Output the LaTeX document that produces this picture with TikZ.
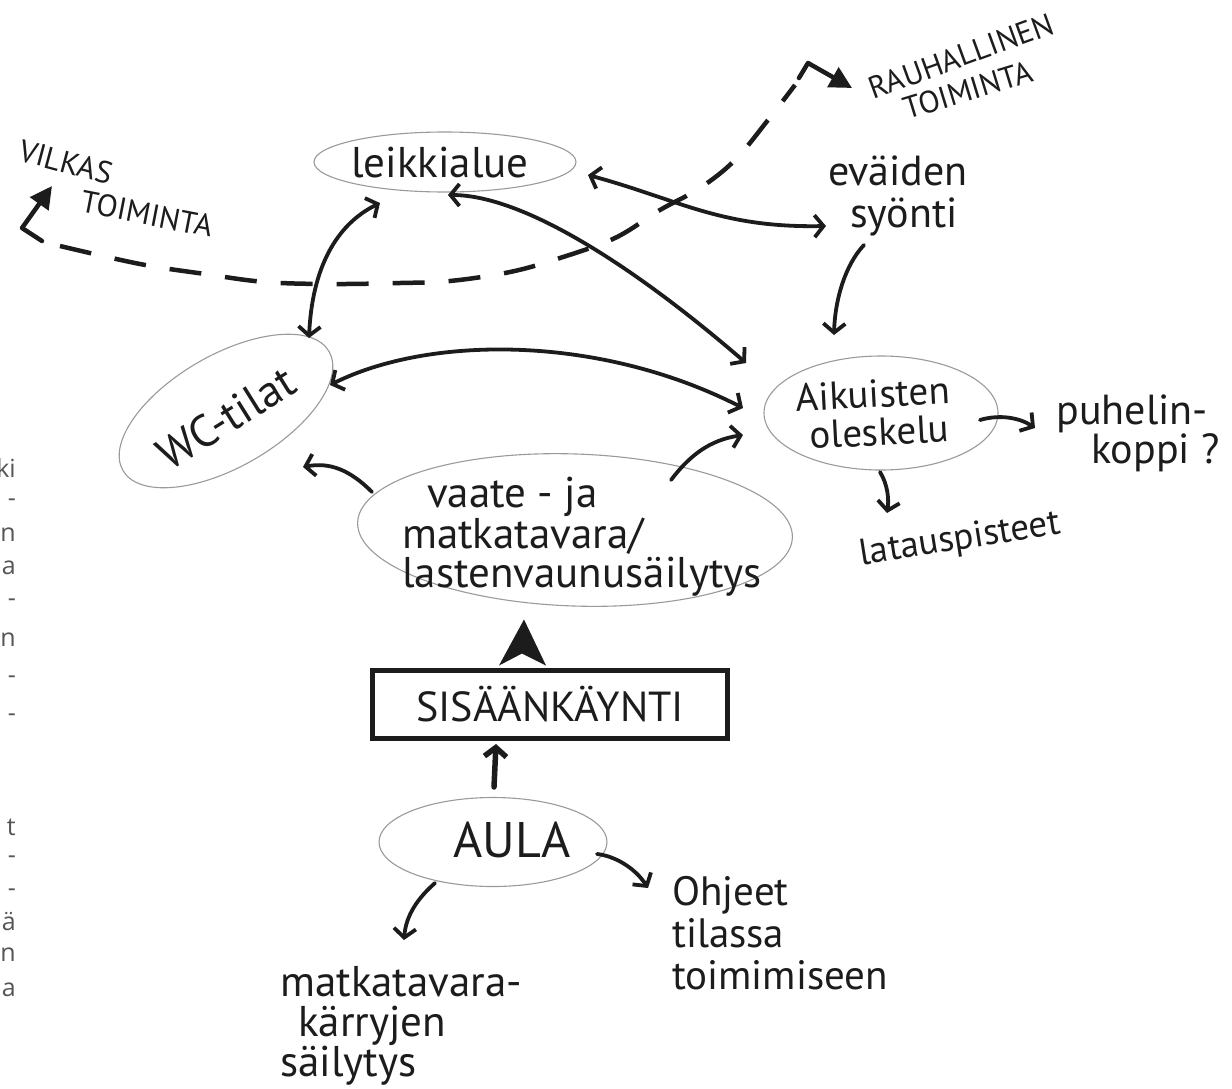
\documentclass[tikz,border=0pt]{standalone}
\usepackage{fontspec}
\setmainfont{PT Sans}
\newfontfamily\edgefont{Open Sans}
\usetikzlibrary{arrows.meta,shapes.geometric,calc}
\definecolor{ink}{HTML}{1C1C1C}
\definecolor{pencilgray}{HTML}{9A9A9A}
\definecolor{edgegray}{HTML}{555555}
\begin{document}
\begin{tikzpicture}[x=1pt,y=-1pt,
  hand/.style={text=ink, inner sep=0pt, font=\fontsize{40}{40}\selectfont},
  caps/.style={text=ink, inner sep=0pt, font=\fontsize{31}{31}\selectfont},
  oval/.style={draw=pencilgray, line width=1.1pt, ellipse, inner sep=0pt},
  edgetxt/.style={text=edgegray, inner sep=0pt, anchor=east, font=\edgefont\fontsize{25}{25}\selectfont},
  barb/.tip={Straight Barb[length=9pt,width=22pt]},
  conn/.style={draw=ink, line width=3.8pt, line cap=round, -barb},
  biconn/.style={draw=ink, line width=3.8pt, line cap=round, barb-barb},
  bold/.style={draw=ink, line width=4.5pt, line cap=round, line join=round},
]
\useasboundingbox (0,0) rectangle (1232,1088);
\fill[white] (0,0) rectangle (1232,1088);

% cut-off page text at the left edge
\foreach \t/\y [count=\i] in {ki/468,-/503,n/535,a/568,-/603,n/640,-/680,-/718,t/827,-/860,-/893,ä/922,n/955,a/990}
  \node[edgetxt] (edge\i) at (16,\y) {\t};

% ellipses
\node[oval, minimum width=262pt, minimum height=60pt] (leik) at (445,162) {};
\node[oval, minimum width=234pt, minimum height=114pt] (aik) at (881,413) {};
\node[oval, minimum width=238pt, minimum height=112pt, rotate=30] (wc) at (226,411) {};
\node[oval, minimum width=435pt, minimum height=152pt, rotate=-2] (vaate) at (575,530) {};
\node[oval, minimum width=228pt, minimum height=89pt] (aula) at (493,842) {};

% texts
\node[hand, font=\fontsize{43}{43}\selectfont] (leikT) at (440,163) {leikkialue};
\node[hand, align=left, font=\fontsize{42}{42}\selectfont] (fv) at (898,196) {eväiden\\\hspace*{22pt}syönti};
\node[hand, align=left, font=\fontsize{39}{38}\selectfont, rotate=3] (aikT) at (874,413) {Aikuisten\\\hspace*{12pt}oleskelu};
\node[hand, align=left, font=\fontsize{42}{36}\selectfont] (puh) at (1138,433) {puhelin-\\\hspace*{35pt}koppi ?};
\node[hand, font=\fontsize{37}{37}\selectfont, rotate=9] (lat) at (960,540) {latauspisteet};
\node[hand, rotate=32, font=\fontsize{45}{45}\selectfont] (wcT) at (226,418) {WC-tilat};
\node[hand, align=left, font=\fontsize{43}{39}\selectfont] (vaateT) at (582,537) {\hspace*{25pt}vaate - ja\\matkatavara/\\lastenvaunusäilytys};
\node[draw=ink, line width=5pt, minimum width=355pt, minimum height=68pt, inner sep=0pt,
      text=ink, font=\fontsize{42}{42}\selectfont] (sis) at (550,704) {SISÄÄNKÄYNTI};
\node[hand, font=\fontsize{50}{50}\selectfont] (aulaT) at (512,840) {AULA};
\node[hand, align=left, anchor=north west, font=\fontsize{41}{42}\selectfont] (ohj) at (672,876) {Ohjeet\\tilassa\\toimimiseen};
\node[hand, align=left, anchor=north west, font=\fontsize{43}{40}\selectfont] (matk) at (280,966) {matkatavara-\\\hspace*{18pt}kärryjen\\säilytys};

\node[caps, rotate=-15] (vilk) at (66,162) {VILKAS};
\node[caps, rotate=-11] (vtoim) at (147,214) {TOIMINTA};
\node[caps, font=\fontsize{31}{31}\selectfont, rotate=20] (rauh) at (961,56) {RAUHALLINEN};
\node[caps, font=\fontsize{31}{31}\selectfont, rotate=17] (rtoim) at (968,90) {TOIMINTA};

% connectors
\draw[biconn] ($(wc)+(83,-73)$) .. controls (312,270) and (335,225) .. ($(leik)+(-65,41)$);
\draw[biconn] ($(leik)+(3,33)$) .. controls (530,195) and (650,280) .. ($(aik)+(-135,-50)$);
\draw[biconn] ($(leik)+(143,13)$) .. controls (680,200) and (720,228) .. ($(fv)+(-72,30)$);
\draw[conn] ($(fv)+(-34,49)$) .. controls (845,265) and (835,300) .. ($(aik)+(-47,-78)$);
\draw[biconn] ($(wc)+(104,-26)$) .. controls (430,335) and (600,335) .. ($(aik)+(-138,-5)$);
\draw[conn] ($(vaate)+(-203,-38)$) .. controls (350,470) and (330,462) .. ($(wc)+(77,56)$);
\draw[conn] ($(vaate)+(96,-50)$) .. controls (690,455) and (710,440) .. ($(aik)+(-138,22)$);
\draw[conn] ($(aik)+(99,7)$) .. controls (1000,414) and (1020,418) .. ($(puh)+(-103,-5)$);
\draw[conn] ($(aik)+(-1,59)$) .. controls (888,485) and (889,500) .. ($(lat)+(-73,-27)$);
\fill[ink] ($(sis.north)+(-51,-2)$) -- ($(sis.north)+(-26,-48)$) -- ($(sis.north)+(-4,-2)$) -- ($(sis.north)+(-28,-14)$) -- cycle;
\draw[conn, line width=5.5pt] ($(aula)+(1,-55)$) -- ($(sis)+(-54,40)$);
\draw[conn] ($(aula)+(-58,41)$) .. controls (418,898) and (406,915) .. ($(matk.north west)+(124,-26)$);
\draw[conn] ($(aula)+(104,12)$) .. controls (615,856) and (635,868) .. ($(ohj.north west)+(-24,12)$);

% activity axis
\coordinate (vtip) at (52,186);
\coordinate (rtip) at (852,88);
\draw[bold, -{Triangle[length=22pt,width=22pt]}] (42,241) -- (22,228) -- (vtip);
\draw[draw=ink, line width=4.5pt, dash pattern=on 32pt off 24pt] plot[smooth, tension=0.6] coordinates {(60,246) (140,264) (205,274) (265,282) (330,284) (400,283) (450,281) (510,272) (560,258) (615,238) (660,210) (700,188) (735,160) (768,120) (795,85)};
\draw[bold, -{Triangle[length=22pt,width=22pt]}] (799,78) -- (808,63) -- (rtip);
\end{tikzpicture}
\end{document}
